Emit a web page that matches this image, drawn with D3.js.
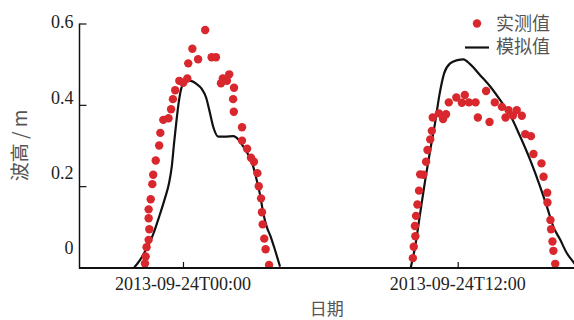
<!DOCTYPE html>
<html>
<head>
<meta charset="utf-8">
<script src="https://cdn.jsdelivr.net/npm/d3@7/dist/d3.min.js"></script>
<style>
  html, body { margin: 0; padding: 0; background: #fff; }
  svg { display: block; }
</style>
</head>
<body>
<svg id="chart" width="574" height="320"></svg>
<script>
// Observed wave height (m), hours after 2013-09-24T00:00
const obsHours = [
  -1.66, -1.63, -1.59, -1.50, -1.47, -1.50, -1.50, -1.41, -1.34, -1.30,
  -1.19, -1.04, -0.99, -0.86, -0.63, -0.52, -0.44, -0.34, -0.16, 0.01,
  0.19, 0.23, 0.41, 0.66, 0.97, 1.25, 1.44, 1.66, 1.74, 1.92,
  2.02, 2.23, 2.19, 2.22, 2.58, 2.58, 2.80, 2.97, 3.10, 3.25,
  3.31, 3.41, 3.45, 3.48, 3.55, 3.61, 3.76,
  10.04, 10.08, 10.15, 10.13, 10.18, 10.24, 10.31, 10.36, 10.50, 10.62,
  10.68, 10.80, 10.87, 10.91, 11.18, 11.36, 11.49, 11.61, 11.94, 12.18,
  12.31, 12.49, 12.78, 12.88, 13.24, 13.39, 13.62, 13.93, 14.09, 14.22,
  14.41, 14.58, 14.80, 14.95, 15.20, 15.31, 15.66, 15.75, 15.91, 15.92,
  16.05, 16.08, 16.14, 16.18, 16.26
];
const obsHeight = [
  0.010, 0.027, 0.050, 0.068, 0.094, 0.121, 0.143, 0.168, 0.205, 0.228,
  0.263, 0.300, 0.331, 0.363, 0.367, 0.389, 0.414, 0.436, 0.459, 0.454,
  0.465, 0.502, 0.538, 0.512, 0.584, 0.517, 0.517, 0.453, 0.465, 0.459,
  0.475, 0.442, 0.414, 0.383, 0.345, 0.312, 0.292, 0.270, 0.260, 0.232,
  0.200, 0.170, 0.136, 0.106, 0.071, 0.045, 0.006,
  0.023, 0.051, 0.077, 0.102, 0.127, 0.155, 0.189, 0.229, 0.228, 0.260,
  0.289, 0.315, 0.336, 0.369, 0.379, 0.365, 0.377, 0.406, 0.418, 0.405,
  0.424, 0.406, 0.406, 0.369, 0.434, 0.358, 0.406, 0.395, 0.369, 0.387,
  0.374, 0.387, 0.373, 0.328, 0.323, 0.279, 0.256, 0.223, 0.184, 0.160,
  0.117, 0.094, 0.064, 0.041, 0.009
];

// Simulated wave height (m); null separates the two wetting periods
const modelHours = [
  -2.13, -1.88, -1.59, -1.30, -1.04, -0.79, -0.61, -0.49, -0.39, -0.28,
  -0.17, -0.06, 0.13, 0.34, 0.60, 0.82, 1.01, 1.15, 1.32, 1.54,
  1.84, 2.20, 2.42, 2.64, 2.90, 3.07, 3.22, 3.37, 3.51, 3.66,
  3.83, 4.02, 4.24,
  7.00,
  9.95, 10.14, 10.36, 10.58, 10.80, 11.01, 11.20, 11.41, 11.67, 11.99,
  12.25, 12.54, 12.98, 13.42, 13.85, 14.29, 14.73, 15.17, 15.60, 15.90,
  16.18, 16.48, 16.77, 16.99, 17.18
];
const modelHeight = [
  0.000, 0.018, 0.047, 0.082, 0.125, 0.170, 0.207, 0.248, 0.305, 0.363,
  0.412, 0.443, 0.457, 0.459, 0.451, 0.439, 0.418, 0.387, 0.346, 0.322,
  0.322, 0.323, 0.315, 0.297, 0.272, 0.248, 0.215, 0.178, 0.133, 0.100,
  0.076, 0.043, 0.002,
  null,
  0.000, 0.051, 0.133, 0.215, 0.289, 0.355, 0.424, 0.478, 0.502, 0.510,
  0.512, 0.500, 0.473, 0.445, 0.412, 0.375, 0.322, 0.264, 0.199, 0.149,
  0.100, 0.068, 0.035, 0.018, 0.004
];

const xTickHours = [0, 12];
const yTickValues = [0, 0.2, 0.4, 0.6];
const legendLabels = ["实测值", "模拟值"];
const xTitle = "日期";
const yTitle = "波高 / m";

const base = Date.UTC(2013, 8, 24, 0, 0);
const toDate = h => new Date(base + h * 3600 * 1000);

const svg = d3.select("#chart");
const plotLeft = 79.5, plotRight = 574, plotTop = 23.5, plotBottom = 267.5;

const x = d3.scaleUtc()
  .domain([toDate(-4.52), toDate(17.08)])
  .range([plotLeft, plotRight]);
const y = d3.scaleLinear().domain([0, 0.6]).range([plotBottom, plotTop]);
// tick labels sit slightly above their tick marks
const yLabel = d3.scaleLinear().domain([0, 0.6]).range([248, 22]);

const serif = "'Liberation Serif', 'Times New Roman', serif";
const cjk = "'Noto Sans CJK SC', 'Noto Sans', sans-serif";

// clip plotted marks to the axes box
svg.append("defs").append("clipPath").attr("id", "plot")
  .append("rect").attr("x", plotLeft).attr("y", 0)
  .attr("width", plotRight - plotLeft).attr("height", plotBottom + 0.5);

const plot = svg.append("g").attr("clip-path", "url(#plot)");

const line = d3.line()
  .defined((d, i) => modelHeight[i] !== null)
  .x((d, i) => x(toDate(modelHours[i])))
  .y((d, i) => y(modelHeight[i]))
  .curve(d3.curveMonotoneX);

plot.append("path")
  .datum(modelHours)
  .attr("d", line)
  .attr("fill", "none")
  .attr("stroke", "#111")
  .attr("stroke-width", 2.2)
  .attr("stroke-linejoin", "round");

plot.selectAll("circle.obs")
  .data(obsHours)
  .join("circle")
  .attr("class", "obs")
  .attr("cx", d => x(toDate(d)))
  .attr("cy", (d, i) => y(obsHeight[i]))
  .attr("r", 4.2)
  .attr("fill", "#d8282d");

// y axis: inward ticks, labels placed separately
const yAxis = svg.append("g").attr("transform", `translate(${plotLeft},0)`)
  .call(d3.axisRight(y).tickValues(yTickValues.filter(v => v > 0)).tickSize(7).tickFormat(""));
yAxis.select(".domain").attr("d", `M0,${plotTop}V${plotBottom + 1}`)
  .attr("stroke", "#111").attr("stroke-width", 1.5);
yAxis.selectAll(".tick line").attr("stroke", "#111").attr("stroke-width", 1.2);

svg.append("g").selectAll("text")
  .data(yTickValues)
  .join("text")
  .attr("x", plotLeft - 6)
  .attr("y", d => yLabel(d))
  .attr("dy", "0.35em")
  .attr("text-anchor", "end")
  .attr("font-family", serif)
  .attr("font-size", 18)
  .attr("fill", "#222")
  .text(d => d === 0 ? "0" : d3.format(".1f")(d));

// x axis
const fmt = d3.utcFormat("%Y-%m-%dT%H:%M");
const xAxis = svg.append("g").attr("transform", `translate(0,${plotBottom + 0.5})`)
  .call(d3.axisTop(x).tickValues(xTickHours.map(toDate)).tickSize(6).tickFormat(""));
xAxis.select(".domain").attr("d", `M${plotLeft - 0.5},0H${plotRight}`)
  .attr("stroke", "#111").attr("stroke-width", 2);
xAxis.selectAll(".tick line").attr("stroke", "#111").attr("stroke-width", 1.2);

svg.append("g").selectAll("text")
  .data(xTickHours)
  .join("text")
  .attr("x", d => x(toDate(d)))
  .attr("y", 290)
  .attr("text-anchor", "middle")
  .attr("font-family", serif)
  .attr("font-size", 18)
  .attr("fill", "#222")
  .text(d => fmt(toDate(d)));

// axis titles
svg.append("text")
  .attr("x", (plotLeft + plotRight) / 2)
  .attr("y", 309)
  .attr("dy", "0.35em")
  .attr("text-anchor", "middle")
  .attr("font-family", cjk)
  .attr("font-size", 17)
  .attr("fill", "#555")
  .text(xTitle);

svg.append("text")
  .attr("transform", `translate(20,${(plotTop + plotBottom) / 2}) rotate(-90)`)
  .attr("dy", "0.35em")
  .attr("text-anchor", "middle")
  .attr("font-family", cjk)
  .attr("font-size", 19)
  .attr("fill", "#555")
  .text(yTitle);

// legend
const legend = svg.append("g");
legend.append("circle").attr("cx", 477).attr("cy", 23.5).attr("r", 4.2).attr("fill", "#d8282d");
legend.append("line").attr("x1", 465).attr("x2", 489).attr("y1", 47.5).attr("y2", 47.5)
  .attr("stroke", "#111").attr("stroke-width", 2.2);
legend.selectAll("text")
  .data(legendLabels)
  .join("text")
  .attr("x", 496)
  .attr("y", (d, i) => 23.5 + i * 23.5)
  .attr("dy", "0.35em")
  .attr("font-family", cjk)
  .attr("font-size", 18)
  .attr("fill", "#555")
  .text(d => d);
</script>
</body>
</html>
